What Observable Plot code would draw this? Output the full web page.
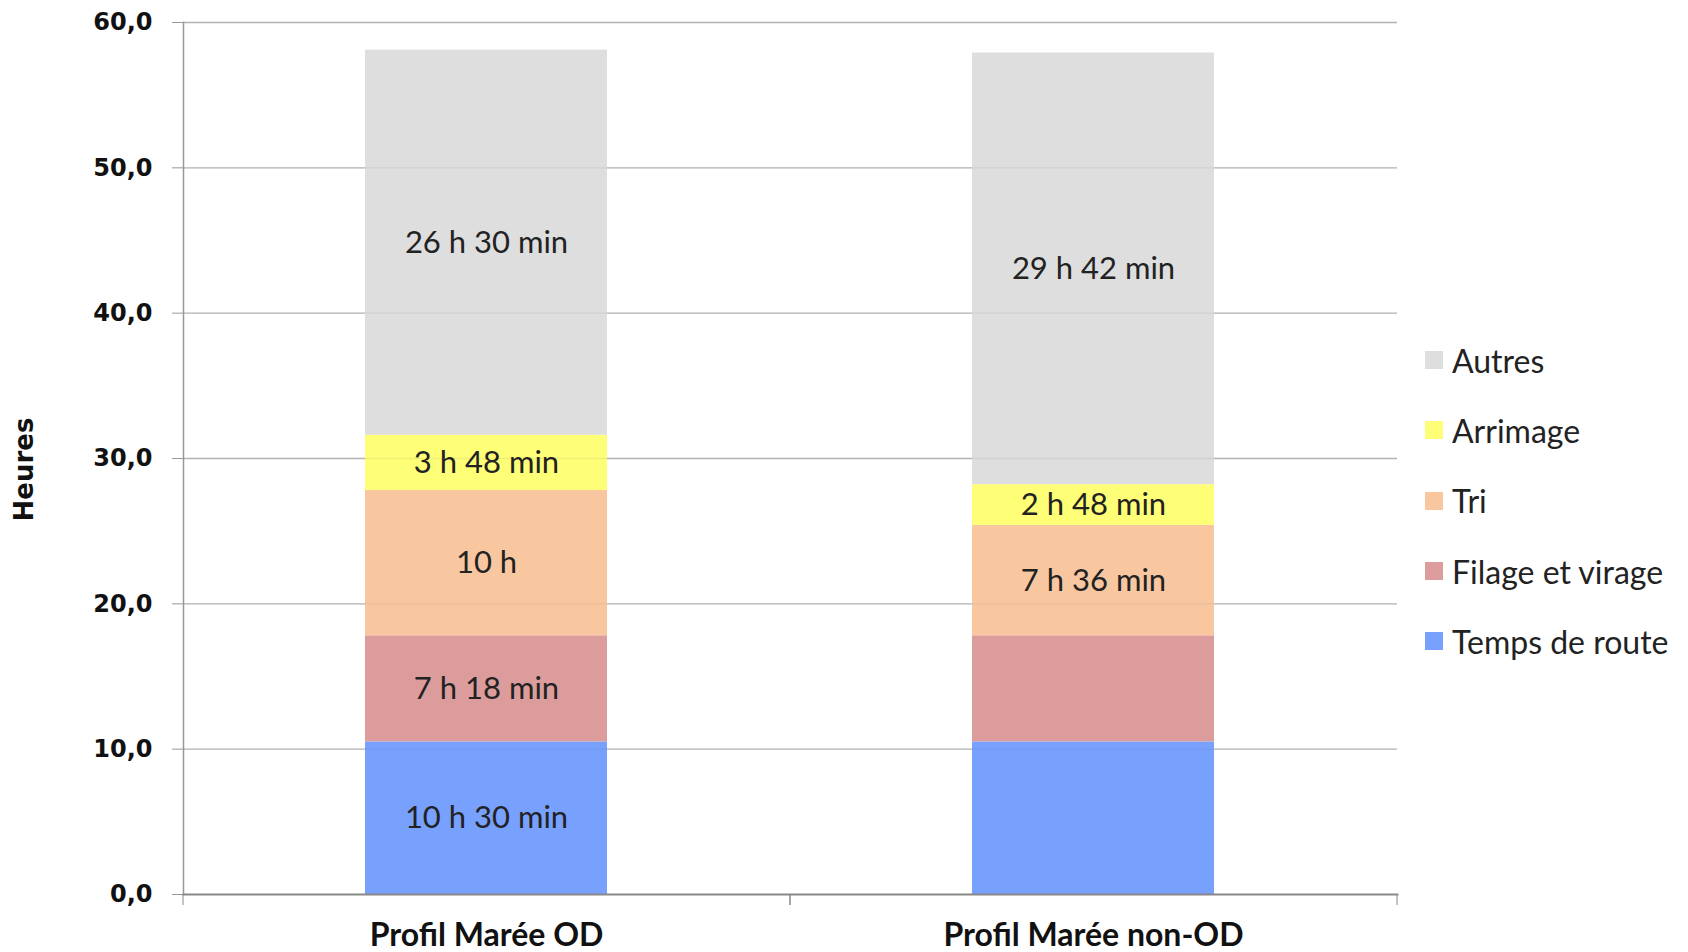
<!DOCTYPE html>
<html>
<head>
<meta charset="utf-8">
<script src="https://cdn.jsdelivr.net/npm/d3@7"></script>
<script src="https://cdn.jsdelivr.net/npm/@observablehq/plot@0.6"></script>
<style>
  html, body { margin: 0; padding: 0; background: #fff; }
  #wrap { position: relative; width: 1688px; height: 952px; }
  #wrap svg { overflow: visible; }
  #legend { position: absolute; left: 1425px; top: 325px; font-family: Lato, "Open Sans", sans-serif; font-size: 32px; color: #222; }
  .item { height: 70.3px; display: flex; align-items: center; }
  .sw { width: 18px; height: 18px; margin-right: 9px; }
</style>
</head>
<body>
<div id="wrap"><div id="legend"></div></div>
<script>
const categories = ["Profil Marée OD", "Profil Marée non-OD"];
const series = ["Temps de route", "Filage et virage", "Tri", "Arrimage", "Autres"];
const colors = ["#77a1fc", "#dd9c9c", "#f8c7a0", "#ffff77", "#dedede"];
const valuesOD = [10.5, 7.3, 10, 3.8, 26.5];
const valuesNonOD = [10.5, 7.3, 7.6, 2.8, 29.7];
const labelsOD = ["10 h 30 min", "7 h 18 min", "10 h", "3 h 48 min", "26 h 30 min"];
const labelsNonOD = ["", "", "7 h 36 min", "2 h 48 min", "29 h 42 min"];
const yTicks = [0, 10, 20, 30, 40, 50, 60];
const yTickLabels = ["0,0", "10,0", "20,0", "30,0", "40,0", "50,0", "60,0"];
const yTitle = "Heures";

const valueSets = [valuesOD, valuesNonOD];
const labelSets = [labelsOD, labelsNonOD];
const data = categories.flatMap((c, i) =>
  series.map((s, j) => ({category: c, series: s, value: valueSets[i][j], label: labelSets[i][j]}))
);
const fmt = d => yTickLabels[yTicks.indexOf(d)];
const halfStep = 303.5;

const chart = Plot.plot({
  width: 1688,
  height: 952,
  marginLeft: 183,
  marginRight: 291,
  marginTop: 22,
  marginBottom: 58,
  style: {background: "white", fontFamily: "Lato, sans-serif", overflow: "visible"},
  x: {domain: categories, paddingInner: 0.601, paddingOuter: 0.3, label: null, axis: null},
  y: {domain: [0, 60], label: null, axis: null},
  color: {domain: series, range: colors},
  marks: [
    Plot.ruleY(yTicks.slice(1), {stroke: "#bdbdbd", strokeWidth: 1.4}),
    Plot.barY(data, Plot.stackY({x: "category", y: "value", fill: "series"})),
    Plot.ruleY(yTicks.slice(1), {stroke: "#777", strokeOpacity: 0.12, strokeWidth: 1.4}),
    Plot.text(data, Plot.stackY({x: "category", y: "value", text: "label", fill: "#222", fontSize: 31, fontFamily: "Lato, sans-serif"})),
    Plot.axisY({ticks: yTicks, tickFormat: fmt, tickSize: 11, tickPadding: 20, stroke: "#999", fill: "#111",
      fontSize: 24, fontWeight: "bold", fontFamily: "DejaVu Sans, sans-serif", label: null}),
    Plot.frame({anchor: "left", stroke: "#999", strokeWidth: 1.5}),
    Plot.frame({anchor: "bottom", stroke: "#888", strokeWidth: 1.8}),
    Plot.axisX({tickSize: 11, tickFormat: () => "", dx: -halfStep, stroke: "#888", label: null}),
    Plot.axisX({tickSize: 11, tickFormat: () => "", dx: halfStep, stroke: "#888", label: null}),
    Plot.axisX({tickSize: 0, tickPadding: 29, fontSize: 32, fontWeight: "bold", fontFamily: "Lato, sans-serif", fill: "#111", label: null}),
    Plot.text([yTitle], {frameAnchor: "left", textAnchor: "middle", dx: -159, dy: 11, rotate: -90, fontSize: 26, fontWeight: "bold",
      fontFamily: "DejaVu Sans, sans-serif", fill: "#111"})
  ]
});
document.getElementById("wrap").prepend(chart);

const legend = document.getElementById("legend");
series.slice().reverse().forEach(s => {
  const row = document.createElement("div");
  row.className = "item";
  const sw = document.createElement("div");
  sw.className = "sw";
  sw.style.background = colors[series.indexOf(s)];
  const t = document.createElement("span");
  t.textContent = s;
  row.append(sw, t);
  legend.append(row);
});
</script>
</body>
</html>
